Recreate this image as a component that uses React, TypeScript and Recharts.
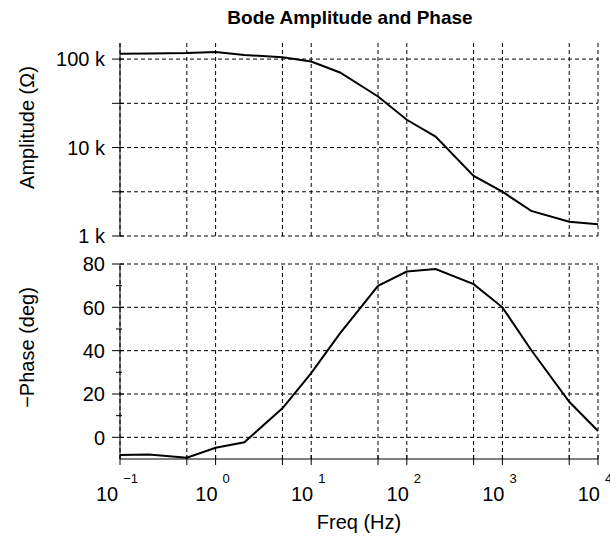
import React from "react";
import { LineChart, Line, XAxis, YAxis, Label, ReferenceLine } from "recharts";

const FONT = '"Liberation Sans", Arial, Helvetica, sans-serif';

// frequencies (Hz) and readings taken off the plot
const freq = [0.1, 0.2, 0.5, 1, 2, 5, 10, 20, 50, 100, 200, 500, 1000, 2000, 5000, 10000];
const amplitude = [115000, 116000, 117000, 120000, 111000, 105000, 94000, 70500, 37800, 20600, 13300, 4780, 3170, 1920, 1450, 1360];
const phase = [-8.2, -7.9, -9.4, -4.8, -2.3, 13.4, 29.6, 48, 69.9, 76.5, 77.7, 70.7, 60.0, 40.3, 16.4, 2.9];

const freqTicks = [0.1, 0.5, 1, 5, 10, 50, 100, 500, 1000, 5000, 10000];
const ampTicks = [1000, 3162.28, 10000, 31622.8, 100000];
const ampLabels: Record<number, string> = { 1000: "1 k", 10000: "10 k", 100000: "100 k" };
const phaseTicks = [0, 10, 20, 30, 40, 50, 60, 70, 80];
const phaseGrid = [0, 20, 40, 60, 80];

const data = freq.map((f, i) => ({ freq: f, amp: amplitude[i], phase: phase[i] }));

const BareXTick = (props: any) => {
  const { x, y } = props;
  return <line x1={x} x2={x} y1={y - 4} y2={y + 7} stroke="#000" />;
};

const FreqTick = (props: any) => {
  const { x, y, payload } = props;
  const lg = Math.log10(payload.value);
  const exp = Math.round(lg);
  const decade = Math.abs(lg - exp) < 1e-6;
  return (
    <g>
      <line x1={x} x2={x} y1={y - 4} y2={y + 6} stroke="#000" />
      {decade && (
        <text x={x - 3} y={y + 42} textAnchor="middle" fontSize={20} fill="#000" fontFamily={FONT}>
          10
          <tspan dx={5} dy={-18} fontSize={13}>{exp < 0 ? "\u2212" + -exp : String(exp)}</tspan>
        </text>
      )}
    </g>
  );
};

const AmpTick = (props: any) => {
  const { x, y, payload } = props;
  const lbl = ampLabels[payload.value];
  return (
    <g>
      <line x1={x - 8} x2={x + 4} y1={y} y2={y} stroke="#000" />
      {lbl && (
        <text x={x - 15} y={y} dy="0.36em" textAnchor="end" fontSize={20} fill="#000" fontFamily={FONT}>
          {lbl}
        </text>
      )}
    </g>
  );
};

const PhaseTick = (props: any) => {
  const { x, y, payload } = props;
  const major = payload.value % 20 === 0;
  return (
    <g>
      <line x1={x - (major ? 8 : 4)} x2={x + (major ? 4 : 2)} y1={y} y2={y} stroke="#000" />
      {major && (
        <text x={x - 15} y={y} dy="0.36em" textAnchor="end" fontSize={20} fill="#000" fontFamily={FONT}>
          {payload.value}
        </text>
      )}
    </g>
  );
};

const yTitle = (text: string, shift: number) => (props: any) => {
  const vb = props.viewBox || { x: 0, y: 0, width: 120, height: 190 };
  const cy = vb.y + vb.height / 2 + shift;
  return (
    <text transform={`translate(34,${cy}) rotate(-90)`} textAnchor="middle" fontSize={20} fill="#000" fontFamily={FONT}>
      {text}
    </text>
  );
};

const xTitle = (props: any) => {
  const vb = props.viewBox || { x: 120, y: 209, width: 478, height: 78 };
  return (
    <text x={vb.x + vb.width / 2} y={vb.y + 70} textAnchor="middle" fontSize={20} fill="#000" fontFamily={FONT}>
      Freq (Hz)
    </text>
  );
};

// dashed grid drawn as reference lines so nothing lands on the plot's top edge
const gridLines = (xs: number[], ys: number[]) => [
  ...xs.map((v) => <ReferenceLine key={"x" + v} x={v} stroke="#000" strokeDasharray="4 3" strokeWidth={1} />),
  ...ys.map((v) => <ReferenceLine key={"y" + v} y={v} stroke="#000" strokeDasharray="4 3" strokeWidth={1} />),
];

export default function App() {
  return (
    <div style={{ position: "absolute", left: 0, top: 0, width: 610, height: 537, background: "#fff", fontFamily: FONT }}>
      <div
        style={{
          position: "absolute",
          left: 100,
          top: 8,
          width: 500,
          textAlign: "center",
          fontSize: 19,
          lineHeight: "19px",
          fontWeight: "bold",
          color: "#000",
        }}
      >
        Bode Amplitude and Phase
      </div>

      <div style={{ position: "absolute", left: 0, top: 0 }}>
        <LineChart width={610} height={250} data={data} margin={{ top: 43, right: 12, bottom: 14, left: 0 }}>
          {gridLines(freqTicks, ampTicks)}
          <XAxis
            dataKey="freq"
            type="number"
            scale="log"
            domain={[0.1, 10000]}
            ticks={freqTicks}
            interval={0}
            allowDataOverflow
            height={0}
            tickSize={0}
            tickMargin={0}
            tickLine={false}
            axisLine={{ stroke: "#000" }}
            tick={<BareXTick />}
          />
          <YAxis
            type="number"
            scale="log"
            domain={[1000, 152000]}
            ticks={ampTicks}
            interval={0}
            allowDataOverflow
            width={120}
            tickSize={0}
            tickMargin={0}
            tickLine={false}
            axisLine={{ stroke: "#000" }}
            tick={<AmpTick />}
          >
            <Label content={yTitle("Amplitude (\u03A9)", -12)} />
          </YAxis>
          <Line type="linear" dataKey="amp" stroke="#000" strokeWidth={2} dot={false} isAnimationActive={false} />
        </LineChart>
      </div>

      <div style={{ position: "absolute", left: 0, top: 250 }}>
        <LineChart width={610} height={287} data={data} margin={{ top: 14, right: 12, bottom: 0, left: 0 }}>
          {gridLines(freqTicks, phaseGrid)}
          <XAxis
            dataKey="freq"
            type="number"
            scale="log"
            domain={[0.1, 10000]}
            ticks={freqTicks}
            interval={0}
            allowDataOverflow
            height={78}
            tickSize={0}
            tickMargin={0}
            tickLine={false}
            axisLine={{ stroke: "#000" }}
            tick={<FreqTick />}
          >
            <Label content={xTitle} />
          </XAxis>
          <YAxis
            type="number"
            domain={[-10, 80]}
            ticks={phaseTicks}
            interval={0}
            allowDataOverflow
            width={120}
            tickSize={0}
            tickMargin={0}
            tickLine={false}
            axisLine={{ stroke: "#000" }}
            tick={<PhaseTick />}
          >
            <Label content={yTitle("\u2212Phase (deg)", -14)} />
          </YAxis>
          <Line type="linear" dataKey="phase" stroke="#000" strokeWidth={2} dot={false} isAnimationActive={false} />
        </LineChart>
      </div>
    </div>
  );
}
